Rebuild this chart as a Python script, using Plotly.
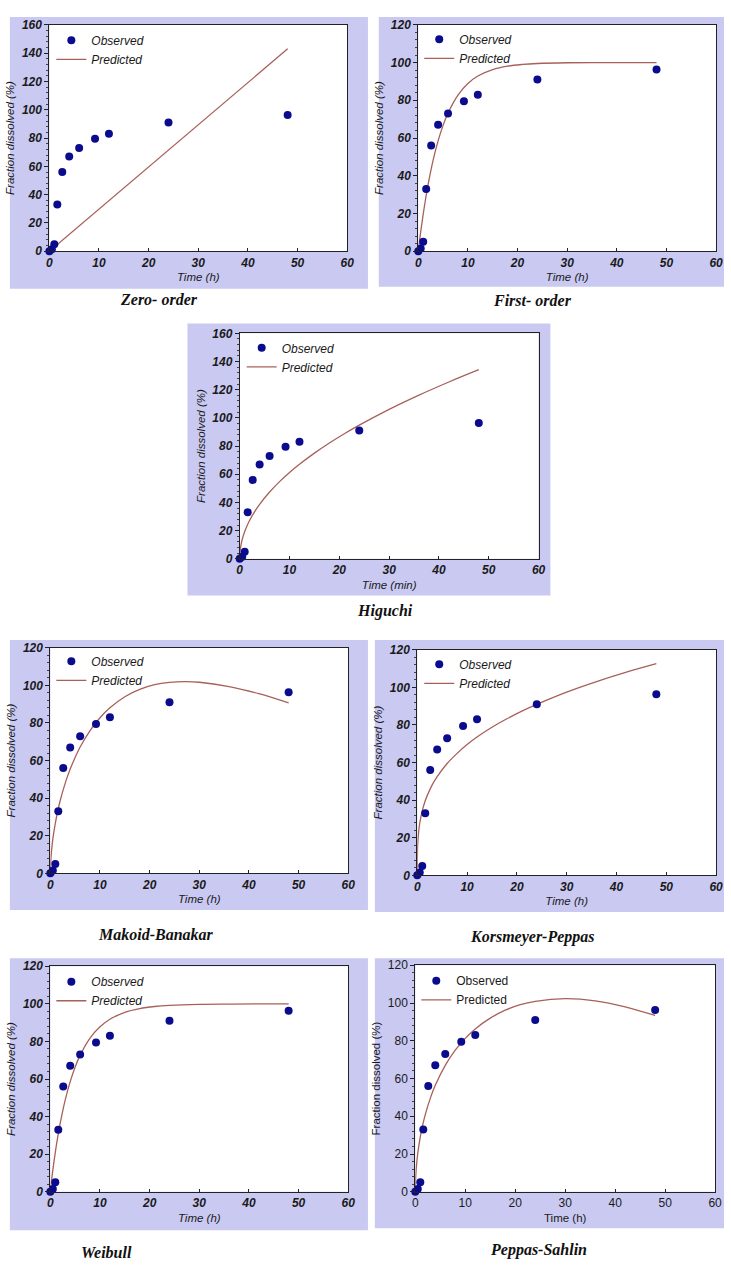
import plotly.graph_objects as go

W, H = 731, 1267

# Observed dissolution profile (time in h, fraction dissolved in %)
t_obs = [0, 0.5, 1, 1.6, 2.6, 4, 6, 9.2, 12, 24, 48]
f_obs = [0, 1.5, 5, 33, 56, 67, 73, 79.5, 83, 91, 96.3]

# Model predictions
t_zero = [0, 48]
f_zero = [0, 143]

t_first = [0, 0.5, 1, 1.5, 2, 3, 4, 5, 6, 8, 10, 12, 15, 18, 21, 24, 30, 36, 42, 48]
f_first = [0, 10.4, 19.7, 28.1, 35.6, 48.3, 58.5, 66.7, 73.3, 82.8, 88.9, 92.9, 96.3,
           98.1, 99.0, 99.5, 99.9, 100, 100, 100]

t_higuchi = [0, 0.1, 0.25, 0.5, 1, 1.5, 2, 3, 4, 6, 8, 10, 12, 15, 18, 21, 24, 30, 36, 42, 48]
f_higuchi = [0, 6.1, 9.7, 13.7, 19.4, 23.7, 27.4, 33.5, 38.7, 47.4, 54.8, 61.3, 67.1, 75.0,
             82.2, 88.8, 94.9, 106.1, 116.2, 125.5, 134.2]

t_mb = [0, 0.1, 0.25, 0.5, 1, 1.5, 2, 3, 4, 6, 8, 10, 12, 15, 18, 21, 24, 27, 30, 36, 42, 48]
f_mb = [0, 7.2, 12.2, 18.2, 26.6, 33.3, 38.9, 48.0, 55.5, 67.2, 76.0, 82.8, 88.1, 94.0,
        97.9, 100.4, 101.6, 102.0, 101.7, 99.4, 95.6, 90.7]

t_kp = [0, 0.05, 0.1, 0.25, 0.5, 1, 1.5, 2, 3, 4, 6, 8, 10, 12, 15, 18, 21, 24, 30, 36, 42, 48]
f_kp = [0, 13.7, 16.9, 22.4, 27.7, 34.3, 38.9, 42.4, 48.1, 52.5, 59.5, 64.9, 69.6, 73.6,
        78.8, 83.3, 87.4, 91.0, 97.5, 103.1, 108.1, 112.6]

t_weib = [0, 0.25, 0.5, 1, 1.5, 2, 3, 4, 5, 6, 8, 10, 12, 15, 18, 21, 24, 30, 36, 42, 48]
f_weib = [0, 6.1, 11.5, 21.0, 29.3, 36.6, 48.9, 58.6, 66.4, 72.7, 81.8, 87.8, 91.8, 95.5,
          97.5, 98.6, 99.2, 99.75, 99.9, 100, 100]

t_ps = [0, 0.1, 0.25, 0.5, 1, 1.5, 2, 3, 4, 6, 8, 10, 12, 15, 18, 21, 24, 30, 36, 42, 48]
f_ps = [0, 8.7, 14.2, 20.4, 29.1, 35.6, 40.9, 49.5, 56.4, 67.0, 75.0, 81.3, 86.3, 92.0,
        96.2, 99.1, 100.9, 102.3, 101.2, 98.0, 93.4]

# Tick values shared by the panels
x_ticks = [0, 10, 20, 30, 40, 50, 60]
y_ticks_160 = [0, 20, 40, 60, 80, 100, 120, 140, 160]
y_ticks_120 = [0, 20, 40, 60, 80, 100, 120]

panel_names = ["Zero- order", "First- order", "Higuchi", "Makoid-Banakar",
               "Korsmeyer-Peppas", "Weibull", "Peppas-Sahlin"]
x_titles = ["Time (h)", "Time (h)", "Time (min)", "Time (h)", "Time (h)", "Time (h)", "Time (h)"]
y_ticks = [y_ticks_160, y_ticks_120, y_ticks_160, y_ticks_120, y_ticks_120, y_ticks_120,
           y_ticks_120]
predicted = [(t_zero, f_zero), (t_first, f_first), (t_higuchi, f_higuchi), (t_mb, f_mb),
             (t_kp, f_kp), (t_weib, f_weib), (t_ps, f_ps)]

# Layout in pixels: lavender panel box, plot area, caption centre, legend anchor
panels = [
    dict(bg=(7, 10, 370, 285), plot=(47, 18, 349, 247), cap=(158, 296), leg=(49, 19)),
    dict(bg=(381, 10, 731, 283), plot=(421, 18, 723, 247), cap=(537, 297), leg=(422, 18)),
    dict(bg=(187, 320, 555, 595), plot=(240, 330, 543, 558), cap=(387, 611), leg=(242, 330)),
    dict(bg=(7, 640, 370, 913), plot=(48, 648, 350, 876), cap=(155, 938), leg=(49, 647)),
    dict(bg=(377, 640, 731, 915), plot=(420, 650, 723, 878), cap=(537, 940), leg=(422, 650)),
    dict(bg=(7, 962, 370, 1237), plot=(48, 970, 350, 1198), cap=(105, 1259), leg=(49, 971)),
    dict(bg=(377, 962, 731, 1235), plot=(418, 969, 722, 1198), cap=(543, 1257), leg=(419, 970)),
]

LAVENDER = "#c9c9f2"
MARKER = "#0b0b8e"
LINE = "#a8605a"
SANS = "Liberation Sans, Arial, sans-serif"
SERIF = "Liberation Serif, Times New Roman, serif"


def px(x):
    return x / W


def py(y):
    return 1 - y / H


def labels(vals, plain):
    if plain:
        return [str(v) for v in vals]
    return [f"<b><i>{v}</i></b>" for v in vals]


fig = go.Figure()
shapes = []
annotations = []
layout = {}

for i, p in enumerate(panels):
    n = i + 1
    suffix = "" if n == 1 else str(n)
    legend_name = "legend" if n == 1 else f"legend{n}"
    plain = (n == 7)
    style = "normal" if plain else "italic"

    tp, fp = predicted[i]
    fig.add_trace(go.Scatter(
        x=tp, y=fp, mode="lines", name="Predicted", line=dict(color=LINE, width=1.3),
        line_shape="spline", xaxis=f"x{suffix}", yaxis=f"y{suffix}", legend=legend_name,
        cliponaxis=False))
    fig.add_trace(go.Scatter(
        x=t_obs, y=f_obs, mode="markers", name="Observed",
        marker=dict(color=MARKER, size=8), xaxis=f"x{suffix}", yaxis=f"y{suffix}",
        legend=legend_name, cliponaxis=False))

    bx0, by0, bx1, by1 = p["bg"]
    shapes.append(dict(type="rect", xref="paper", yref="paper", x0=px(bx0), x1=px(bx1),
                       y0=py(by1), y1=py(by0), fillcolor=LAVENDER, line=dict(width=0),
                       layer="below"))
    x0, y0, x1, y1 = p["plot"]
    shapes.append(dict(type="rect", xref="paper", yref="paper", x0=px(x0), x1=px(x1),
                       y0=py(y1), y1=py(y0), fillcolor="white", line=dict(width=0),
                       layer="below"))

    tick_font = dict(family=SANS, size=12, color="#1a1a1a")
    title_font = dict(family=SANS, size=11.5, color="#1a1a1a", style=style)
    yt = y_ticks[i]

    layout[f"xaxis{suffix}"] = dict(
        domain=[px(x0), px(x1)], anchor=f"y{suffix}", range=[0, 60],
        tickmode="array", tickvals=x_ticks, ticktext=labels(x_ticks, plain),
        showgrid=False, zeroline=False, showline=True, linecolor="#222", linewidth=1,
        mirror=True, ticks="inside", ticklen=3, tickcolor="#222", tickfont=tick_font,
        title=dict(text=x_titles[i], font=title_font, standoff=4), fixedrange=True)
    layout[f"yaxis{suffix}"] = dict(
        domain=[py(y1), py(y0)], anchor=f"x{suffix}", range=[0, yt[-1]],
        tickmode="array", tickvals=yt, ticktext=labels(yt, plain),
        showgrid=False, zeroline=False, showline=True, linecolor="#222", linewidth=1,
        mirror=True, ticks="outside", ticklen=4, tickcolor="#222", tickfont=tick_font,
        minor=dict(dtick=4, ticks="outside", ticklen=2, tickcolor="#444"),
        title=dict(text="Fraction dissolved (%)", font=title_font, standoff=4),
        fixedrange=True)

    lx, ly = p["leg"]
    layout[legend_name] = dict(
        x=px(lx), y=py(ly), xanchor="left", yanchor="top", bgcolor="rgba(0,0,0,0)",
        borderwidth=0, traceorder="reversed", itemwidth=30, tracegroupgap=0,
        font=dict(family=SANS, size=12, color="#1a1a1a", style=style))

    cx, cy = p["cap"]
    annotations.append(dict(
        text=f"<b><i>{panel_names[i]}</i></b>", xref="paper", yref="paper",
        x=px(cx), y=py(cy), xanchor="center", yanchor="middle", showarrow=False,
        font=dict(family=SERIF, size=16, color="#111")))

fig.update_layout(
    width=W, height=H, margin=dict(l=0, r=0, t=0, b=0),
    paper_bgcolor="white", plot_bgcolor="rgba(0,0,0,0)",
    shapes=shapes, annotations=annotations, showlegend=True, **layout)

fig.write_html("out.html")
